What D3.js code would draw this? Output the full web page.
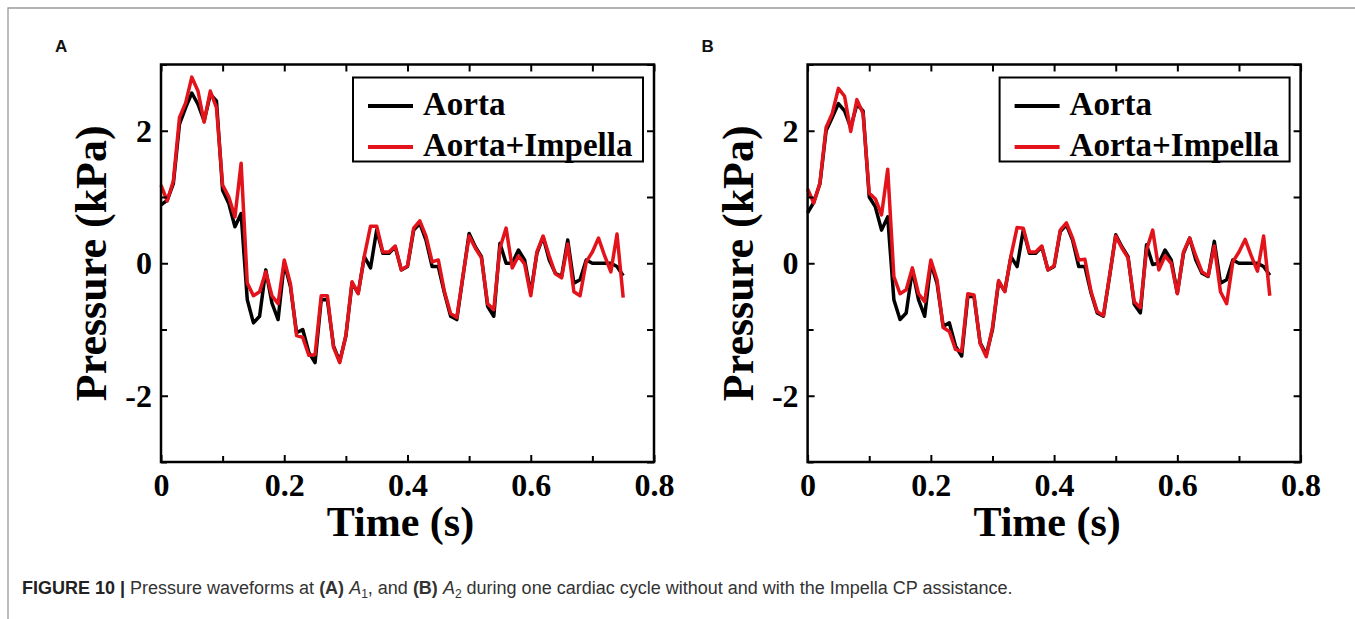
<!DOCTYPE html>
<html>
<head>
<meta charset="utf-8">
<script src="https://cdn.jsdelivr.net/npm/d3@7"></script>
<style>
  body { margin: 0; background: #fff; }
  svg { display: block; }
</style>
</head>
<body>
<svg id="fig" width="1355" height="619"></svg>
<script>
// time samples (s)
var times = [0.00, 0.01, 0.02, 0.03, 0.04, 0.05, 0.06, 0.07, 0.08, 0.09,
  0.10, 0.11, 0.12, 0.13, 0.14, 0.15, 0.16, 0.17, 0.18, 0.19,
  0.20, 0.21, 0.22, 0.23, 0.24, 0.25, 0.26, 0.27, 0.28, 0.29,
  0.30, 0.31, 0.32, 0.33, 0.34, 0.35, 0.36, 0.37, 0.38, 0.39,
  0.40, 0.41, 0.42, 0.43, 0.44, 0.45, 0.46, 0.47, 0.48, 0.49,
  0.50, 0.51, 0.52, 0.53, 0.54, 0.55, 0.56, 0.57, 0.58, 0.59,
  0.60, 0.61, 0.62, 0.63, 0.64, 0.65, 0.66, 0.67, 0.68, 0.69,
  0.70, 0.71, 0.72, 0.73, 0.74, 0.75];

// panel A (A1) pressure, kPa
var aortaA = [0.88, 0.95, 1.2, 2.1, 2.35, 2.57, 2.4, 2.15, 2.55, 2.45,
  1.1, 0.9, 0.55, 0.75, -0.55, -0.9, -0.8, -0.1, -0.6, -0.85,
  0.0, -0.35, -1.05, -1.0, -1.35, -1.5, -0.55, -0.55, -1.25, -1.48,
  -1.1, -0.3, -0.45, 0.1, -0.07, 0.5, 0.15, 0.15, 0.25, -0.1,
  -0.05, 0.5, 0.6, 0.35, -0.05, -0.05, -0.45, -0.8, -0.85, -0.2,
  0.45, 0.25, 0.1, -0.65, -0.8, 0.3, 0.0, 0.0, 0.2, 0.05,
  -0.45, 0.15, 0.4, 0.05, -0.15, -0.2, 0.35, -0.3, -0.25, 0.05,
  0.0, 0.0, 0.0, 0.0, -0.05, -0.19];
var impellaA = [1.18, 0.94, 1.24, 2.2, 2.42, 2.81, 2.6, 2.13, 2.6, 2.35,
  1.18, 1.0, 0.7, 1.51, -0.3, -0.49, -0.43, -0.13, -0.49, -0.61,
  0.05, -0.31, -1.09, -1.12, -1.39, -1.38, -0.49, -0.49, -1.27, -1.5,
  -1.09, -0.28, -0.46, 0.11, 0.56, 0.56, 0.17, 0.17, 0.26, -0.1,
  -0.04, 0.53, 0.64, 0.41, 0.02, 0.05, -0.43, -0.76, -0.82, -0.19,
  0.41, 0.23, 0.08, -0.61, -0.7, 0.23, 0.53, -0.07, 0.11, -0.01,
  -0.49, 0.17, 0.41, 0.11, -0.16, -0.22, 0.29, -0.43, -0.49, 0.02,
  0.17, 0.38, 0.11, -0.13, 0.44, -0.52];

// panel B (A2) pressure, kPa
var aortaB = [0.76, 0.92, 1.2, 2.0, 2.2, 2.41, 2.3, 2.05, 2.4, 2.3,
  1.0, 0.85, 0.5, 0.7, -0.55, -0.85, -0.75, -0.1, -0.55, -0.8,
  0.0, -0.3, -0.95, -0.9, -1.25, -1.4, -0.5, -0.5, -1.2, -1.38,
  -1.0, -0.28, -0.42, 0.1, -0.05, 0.5, 0.15, 0.15, 0.25, -0.1,
  -0.05, 0.48, 0.58, 0.35, -0.05, -0.05, -0.45, -0.75, -0.8, -0.2,
  0.43, 0.25, 0.1, -0.62, -0.75, 0.28, -0.02, 0.0, 0.2, 0.05,
  -0.45, 0.15, 0.38, 0.05, -0.15, -0.2, 0.33, -0.3, -0.25, 0.05,
  0.0, 0.0, 0.0, 0.0, -0.05, -0.18];
var impellaB = [1.12, 0.91, 1.21, 2.05, 2.26, 2.64, 2.52, 1.99, 2.47, 2.26,
  1.06, 0.97, 0.73, 1.42, -0.2, -0.46, -0.4, -0.07, -0.46, -0.58,
  0.05, -0.25, -0.97, -1.03, -1.3, -1.33, -0.46, -0.48, -1.21, -1.41,
  -0.97, -0.26, -0.43, 0.11, 0.54, 0.53, 0.17, 0.17, 0.26, -0.1,
  -0.04, 0.5, 0.61, 0.38, 0.05, 0.06, -0.43, -0.73, -0.79, -0.19,
  0.41, 0.23, 0.08, -0.58, -0.67, 0.2, 0.5, -0.1, 0.11, 0.0,
  -0.46, 0.17, 0.38, 0.11, -0.13, -0.19, 0.26, -0.43, -0.61, 0.02,
  0.17, 0.36, 0.11, -0.12, 0.41, -0.49];

var seriesNames = ["Aorta", "Aorta+Impella"];
var seriesColors = ["#000000", "#e3131b"];

var xTickLabels = [0, 0.2, 0.4, 0.6, 0.8];
var xMinorTicks = [0.1, 0.3, 0.5, 0.7];
var yTickLabels = [-2, 0, 2];
var yMinorTicks = [-3, -1, 1, 3];

var serif = "'Liberation Serif', 'Times New Roman', Times, serif";
var sans = "'Liberation Sans', Arial, Helvetica, sans-serif";

var svg = d3.select("#fig");

// outer figure frame (left + top edges visible)
svg.append("path")
  .attr("d", "M8,640 L8,8 L1360,8")
  .attr("fill", "none")
  .attr("stroke", "#9a9a9a")
  .attr("stroke-width", 1.3);

function drawPanel(left, letter, aorta, impella) {
  var top = 64.5, bottom = 462, width = 493;
  var x = d3.scaleLinear().domain([0, 0.8]).range([left, left + width]);
  var y = d3.scaleLinear().domain([-3, 3]).range([bottom, top]);
  var g = svg.append("g");

  // panel letter
  g.append("text")
    .attr("x", left - 106)
    .attr("y", 52)
    .attr("font-family", sans)
    .attr("font-weight", "bold")
    .attr("font-size", 17)
    .attr("fill", "#111")
    .text(letter);

  // lines, black under red
  var line = d3.line()
    .x(function (d, i) { return x(times[i]); })
    .y(function (d) { return y(d); });
  [aorta, impella].forEach(function (s, k) {
    g.append("path")
      .datum(s)
      .attr("fill", "none")
      .attr("stroke", seriesColors[k])
      .attr("stroke-width", 3.5)
      .attr("stroke-linejoin", "round")
      .attr("d", line);
  });

  // axes: ticks point inward
  var fmt = function (d) { return String(d); };
  var bottomAx = g.append("g").attr("transform", "translate(0," + bottom + ")")
    .call(d3.axisBottom(x).tickValues(xTickLabels).tickFormat(fmt).tickSizeInner(-7).tickSizeOuter(0).tickPadding(11));
  g.append("g").attr("transform", "translate(0," + bottom + ")")
    .call(d3.axisBottom(x).tickValues(xMinorTicks).tickFormat("").tickSizeInner(-6).tickSizeOuter(0));
  g.append("g").attr("transform", "translate(0," + top + ")")
    .call(d3.axisTop(x).tickValues(xTickLabels.concat(xMinorTicks)).tickFormat("").tickSizeInner(-7).tickSizeOuter(0));
  var leftAx = g.append("g").attr("transform", "translate(" + left + ",0)")
    .call(d3.axisLeft(y).tickValues(yTickLabels).tickFormat(fmt).tickSizeInner(-7).tickSizeOuter(0).tickPadding(9));
  g.append("g").attr("transform", "translate(" + left + ",0)")
    .call(d3.axisLeft(y).tickValues(yMinorTicks).tickFormat("").tickSizeInner(-6).tickSizeOuter(0));
  g.append("g").attr("transform", "translate(" + (left + width) + ",0)")
    .call(d3.axisRight(y).tickValues(yTickLabels.concat(yMinorTicks)).tickFormat("").tickSizeInner(-7).tickSizeOuter(0));

  g.selectAll(".domain").remove();
  g.selectAll(".tick line").attr("stroke", "#000").attr("stroke-width", 2);
  [bottomAx, leftAx].forEach(function (ax) {
    ax.selectAll("text")
      .attr("font-family", serif)
      .attr("font-weight", "bold")
      .attr("font-size", 32)
      .attr("fill", "#000");
  });

  // plot frame
  g.append("rect")
    .attr("x", left).attr("y", top)
    .attr("width", width).attr("height", bottom - top)
    .attr("fill", "none")
    .attr("stroke", "#000")
    .attr("stroke-width", 2.5);

  // axis titles
  g.append("text")
    .attr("x", left + width / 2 - 7)
    .attr("y", 536)
    .attr("text-anchor", "middle")
    .attr("font-family", serif)
    .attr("font-weight", "bold")
    .attr("font-size", 42)
    .text("Time (s)");
  g.append("text")
    .attr("transform", "translate(" + (left - 55) + "," + ((top + bottom) / 2) + ") rotate(-90)")
    .attr("text-anchor", "middle")
    .attr("font-family", serif)
    .attr("font-weight", "bold")
    .attr("font-size", 44)
    .text("Pressure (kPa)");

  // legend
  var lx = left + 192, ly = 77.5;
  g.append("rect")
    .attr("x", lx).attr("y", ly)
    .attr("width", 290).attr("height", 84)
    .attr("fill", "#fff")
    .attr("stroke", "#000")
    .attr("stroke-width", 2);
  seriesNames.forEach(function (name, k) {
    var cy = ly + 28.5 + k * 41;
    g.append("line")
      .attr("x1", lx + 15).attr("x2", lx + 60)
      .attr("y1", cy).attr("y2", cy)
      .attr("stroke", seriesColors[k])
      .attr("stroke-width", 4);
    g.append("text")
      .attr("x", lx + 70)
      .attr("y", cy + 8.5)
      .attr("font-family", serif)
      .attr("font-weight", "bold")
      .attr("font-size", 33)
      .text(name);
  });
}

drawPanel(161, "A", aortaA, impellaA);
drawPanel(807.6, "B", aortaB, impellaB);

// caption
var cap = svg.append("text")
  .attr("x", 22)
  .attr("y", 594)
  .attr("font-family", sans)
  .attr("font-size", 18)
  .attr("fill", "#333");
cap.append("tspan").attr("font-weight", "bold").attr("fill", "#222").text("FIGURE 10 | ");
cap.append("tspan").text("Pressure waveforms at ");
cap.append("tspan").attr("font-weight", "bold").text("(A) ");
cap.append("tspan").attr("font-style", "italic").text("A");
cap.append("tspan").attr("font-size", 12).attr("dy", 3.5).text("1");
cap.append("tspan").attr("dy", -3.5).text(", and ");
cap.append("tspan").attr("font-weight", "bold").text("(B) ");
cap.append("tspan").attr("font-style", "italic").text("A");
cap.append("tspan").attr("font-size", 12).attr("dy", 3.5).text("2");
cap.append("tspan").attr("dy", -3.5).text(" during one cardiac cycle without and with the Impella CP assistance.");
</script>
</body>
</html>
